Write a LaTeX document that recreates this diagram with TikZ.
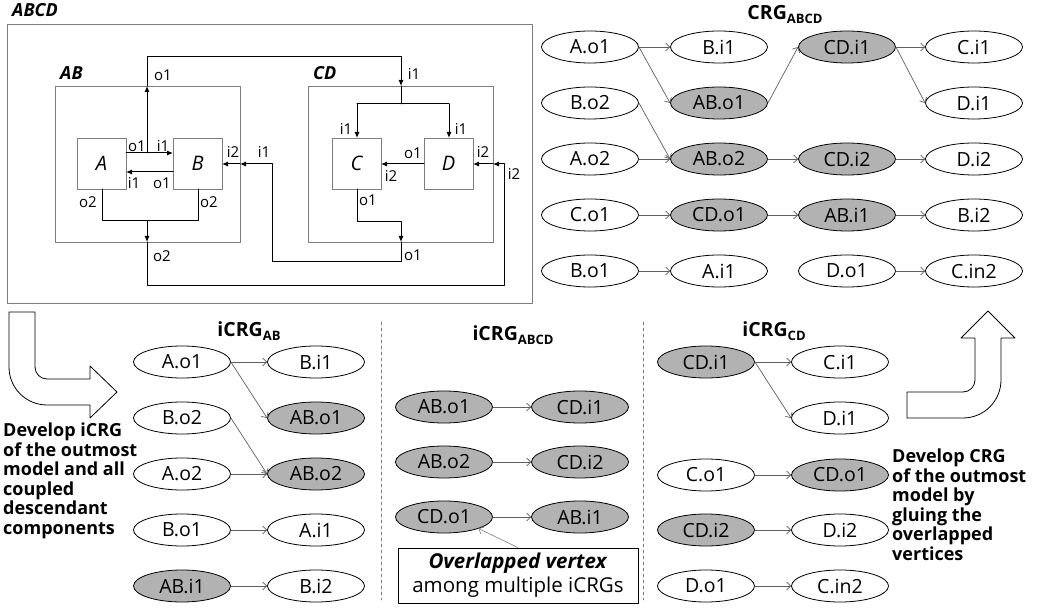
\documentclass[tikz,border=0pt]{standalone}
\usepackage{fontspec}
\setmainfont{Open Sans}
\usetikzlibrary{shapes.geometric,arrows.meta}

\definecolor{vgray}{RGB}{178,178,178}
\definecolor{egray}{RGB}{95,95,95}
\definecolor{bgray}{RGB}{125,125,125}
\newcommand{\subtag}[1]{{\fontsize{13}{13}\selectfont\raisebox{-4pt}{#1}}}

\begin{document}
\begin{tikzpicture}[x=1pt,y=-1pt,line cap=round,line join=round,
  frame/.style={draw=bgray,line width=0.8pt,inner sep=0pt},
  blk/.style={frame,fill=white,minimum width=49pt,minimum height=51pt,font=\fontsize{20}{20}\selectfont\itshape},
  port/.style={inner sep=0pt,font=\fontsize{15}{15}\selectfont},
  mlbl/.style={anchor=base west,inner sep=0pt,font=\fontsize{18}{18}\selectfont\bfseries\itshape},
  sig/.style={line width=1pt,-{Latex[length=6pt,width=5pt]}},
  wire/.style={line width=1pt},
  vtx/.style={ellipse,draw,line width=0.8pt,fill=white,minimum width=97pt,minimum height=32pt,inner sep=0pt,font=\fontsize{19.5}{20}\selectfont},
  gvtx/.style={vtx,fill=vgray},
  edge/.style={draw=egray,line width=0.7pt,-{Straight Barb[length=4pt,width=8pt]}},
  ttl/.style={anchor=base,inner sep=0pt,font=\fontsize{19.5}{19.5}\selectfont\bfseries},
  note/.style={anchor=north west,inner sep=0pt,align=left,font=\fontsize{18}{19.5}\selectfont\bfseries}]
  \useasboundingbox (0,0) rectangle (1042,609);

  % coupled model ABCD
  \node[frame,minimum width=525pt,minimum height=279pt] (ABCD) at (269.5,163.5) {};
  \node[frame,minimum width=185pt,minimum height=156pt] (AB) at (147.5,164) {};
  \node[frame,minimum width=185pt,minimum height=156pt] (CD) at (400.5,164) {};
  \node[blk] (A) at (101.5,163.5) {A};
  \node[blk] (B) at (197.5,163.5) {B};
  \node[blk] (C) at (356.5,163.5) {C};
  \node[blk] (D) at (448.5,163.5) {D};
  \node[mlbl] (nABCD) at (12,17) {ABCD};
  \node[mlbl] (nAB) at (60,80) {AB};
  \node[mlbl] (nCD) at (313,80) {CD};

  \coordinate (ao1) at (126,153);
  \coordinate (bi1) at (173,153);
  \coordinate (jab) at (147,153);
  \coordinate (abtop) at (147,86);
  \coordinate (up1) at (147,57);
  \coordinate (up2) at (401,57);
  \coordinate (cdtop) at (401,86);
  \coordinate (cdsplit) at (401,104);
  \coordinate (csplit) at (357,104);
  \coordinate (dsplit) at (449,104);
  \coordinate (ci1) at (357,138);
  \coordinate (di1) at (449,138);
  \coordinate (bo1) at (173,172);
  \coordinate (ai1) at (126,172);
  \coordinate (ao2) at (102,189);
  \coordinate (ao2b) at (102,221);
  \coordinate (bo2b) at (198,221);
  \coordinate (bo2) at (198,189);
  \coordinate (jo2) at (147,221);
  \coordinate (abbot) at (147,242);
  \coordinate (lo1) at (147,286);
  \coordinate (lo2) at (504,286);
  \coordinate (lo3) at (504,164);
  \coordinate (cdright) at (493,164);
  \coordinate (di2) at (473,164);
  \coordinate (co1) at (357,189);
  \coordinate (co1b) at (357,222);
  \coordinate (co1c) at (401,222);
  \coordinate (cdbot) at (401,242);
  \coordinate (mo1) at (401,262);
  \coordinate (mo2) at (272,262);
  \coordinate (mo3) at (272,164);
  \coordinate (abright) at (240,164);
  \coordinate (bi2) at (222,164);
  \coordinate (do1) at (424,164);
  \coordinate (ci2) at (381,164);

  \draw[sig] (ao1) -- (bi1);
  \draw[sig] (jab) -- (abtop);
  \draw[sig] (abtop) -- (up1) -- (up2) -- (cdtop);
  \draw[wire] (cdtop) -- (cdsplit);
  \draw[wire] (csplit) -- (dsplit);
  \draw[sig] (csplit) -- (ci1);
  \draw[sig] (dsplit) -- (di1);
  \draw[sig] (bo1) -- (ai1);
  \draw[wire] (ao2) -- (ao2b) -- (bo2b) -- (bo2);
  \draw[sig] (jo2) -- (abbot);
  \draw[sig] (abbot) -- (lo1) -- (lo2) -- (lo3) -- (cdright);
  \draw[sig] (cdright) -- (di2);
  \draw[sig] (co1) -- (co1b) -- (co1c) -- (cdbot);
  \draw[sig] (cdbot) -- (mo1) -- (mo2) -- (mo3) -- (abright);
  \draw[sig] (abright) -- (bi2);
  \draw[sig] (do1) -- (ci2);

  \node[port] (pAo1) at (137,146) {o1};
  \node[port] (pBi1) at (163,146) {i1};
  \node[port] (pAi1) at (134,183) {i1};
  \node[port] (pBo1) at (162,183) {o1};
  \node[port] (pAo2) at (88,202) {o2};
  \node[port] (pBo2) at (209,202) {o2};
  \node[port] (pBi2) at (233,152) {i2};
  \node[port] (pABi1) at (264,152) {i1};
  \node[port] (pABo1) at (163,75) {o1};
  \node[port] (pABo2) at (162,256) {o2};
  \node[port] (pCDi1) at (414,74) {i1};
  \node[port] (pCi1) at (346,129) {i1};
  \node[port] (pDi1) at (461,129) {i1};
  \node[port] (pDo1) at (413,153) {o1};
  \node[port] (pDi2) at (483,152) {i2};
  \node[port] (pCi2) at (391,176) {i2};
  \node[port] (pCDi2) at (514,174) {i2};
  \node[port] (pCo1) at (368,200) {o1};
  \node[port] (pCDo1) at (413,255) {o1};

  % CRG of ABCD
  \node[ttl] (tCRG) at (785,20) {CRG\subtag{ABCD}};
  \node[vtx] (gAo1) at (590,47) {A.o1};
  \node[vtx] (gBi1) at (719,47) {B.i1};
  \node[gvtx] (gCDi1) at (847,47) {CD.i1};
  \node[vtx] (gCi1) at (974,47) {C.i1};
  \node[vtx] (gBo2) at (590,103) {B.o2};
  \node[gvtx] (gABo1) at (719,103) {AB.o1};
  \node[vtx] (gDi1) at (974,103) {D.i1};
  \node[vtx] (gAo2) at (590,159) {A.o2};
  \node[gvtx] (gABo2) at (719,159) {AB.o2};
  \node[gvtx] (gCDi2) at (847,159) {CD.i2};
  \node[vtx] (gDi2) at (974,159) {D.i2};
  \node[vtx] (gCo1) at (590,215) {C.o1};
  \node[gvtx] (gCDo1) at (719,215) {CD.o1};
  \node[gvtx] (gABi1) at (847,215) {AB.i1};
  \node[vtx] (gBi2) at (974,215) {B.i2};
  \node[vtx] (gBo1) at (590,271) {B.o1};
  \node[vtx] (gAi1) at (719,271) {A.i1};
  \node[vtx] (gDo1) at (847,271) {D.o1};
  \node[vtx] (gCin2) at (974,271) {C.in2};
  \draw[edge] (gAo1.east) -- (gBi1.west);
  \draw[edge] (gAo1.east) -- (gABo1.west);
  \draw[edge] (gBo2.east) -- (gABo2.west);
  \draw[edge] (gAo2.east) -- (gABo2.west);
  \draw[edge] (gABo1.east) -- (gCDi1.west);
  \draw[edge] (gABo2.east) -- (gCDi2.west);
  \draw[edge] (gCDi1.east) -- (gCi1.west);
  \draw[edge] (gCDi1.east) -- (gDi1.west);
  \draw[edge] (gCDi2.east) -- (gDi2.west);
  \draw[edge] (gCo1.east) -- (gCDo1.west);
  \draw[edge] (gCDo1.east) -- (gABi1.west);
  \draw[edge] (gABi1.east) -- (gBi2.west);
  \draw[edge] (gBo1.east) -- (gAi1.west);
  \draw[edge] (gDo1.east) -- (gCin2.west);

  % iCRG of AB
  \node[ttl] (tAB) at (249,337) {iCRG\subtag{AB}};
  \node[vtx] (aAo1) at (182,362) {A.o1};
  \node[vtx] (aBi1) at (316,362) {B.i1};
  \node[vtx] (aBo2) at (182,418) {B.o2};
  \node[gvtx] (aABo1) at (316,418) {AB.o1};
  \node[vtx] (aAo2) at (182,474) {A.o2};
  \node[gvtx] (aABo2) at (316,474) {AB.o2};
  \node[vtx] (aBo1) at (182,530) {B.o1};
  \node[vtx] (aAi1) at (316,530) {A.i1};
  \node[gvtx] (aABi1) at (182,586) {AB.i1};
  \node[vtx] (aBi2) at (316,586) {B.i2};
  \draw[edge] (aAo1.east) -- (aBi1.west);
  \draw[edge] (aAo1.east) -- (aABo1.west);
  \draw[edge] (aBo2.east) -- (aABo2.west);
  \draw[edge] (aAo2.east) -- (aABo2.west);
  \draw[edge] (aBo1.east) -- (aAi1.west);
  \draw[edge] (aABi1.east) -- (aBi2.west);

  % iCRG of ABCD
  \node[ttl] (tABCD) at (513,341) {iCRG\subtag{ABCD}};
  \node[gvtx] (mABo1) at (444,407) {AB.o1};
  \node[gvtx] (mCDi1) at (580,407) {CD.i1};
  \node[gvtx] (mABo2) at (444,462) {AB.o2};
  \node[gvtx] (mCDi2) at (580,462) {CD.i2};
  \node[gvtx] (mCDo1) at (444,517) {CD.o1};
  \node[gvtx] (mABi1) at (580,517) {AB.i1};
  \draw[edge] (mABo1.east) -- (mCDi1.west);
  \draw[edge] (mABo2.east) -- (mCDi2.west);
  \draw[edge] (mCDo1.east) -- (mABi1.west);
  \node[draw,line width=0.8pt,minimum width=240pt,minimum height=55pt,inner sep=0pt,align=center,
    font=\fontsize{20.5}{24}\selectfont] (ovl) at (518,575.5) {\textbf{\textit{Overlapped vertex}}\\among multiple iCRGs};
  \draw[draw=gray,line width=0.6pt,-{Straight Barb[length=4pt,width=8pt]}] (ovl.north) -- (mCDo1.south east);

  % iCRG of CD
  \node[ttl] (tCD) at (774,337) {iCRG\subtag{CD}};
  \node[gvtx] (cCDi1) at (706,362) {CD.i1};
  \node[vtx] (cCi1) at (840,362) {C.i1};
  \node[vtx] (cDi1) at (840,418) {D.i1};
  \node[vtx] (cCo1) at (706,475) {C.o1};
  \node[gvtx] (cCDo1) at (840,475) {CD.o1};
  \node[gvtx] (cCDi2) at (706,530) {CD.i2};
  \node[vtx] (cDi2) at (840,530) {D.i2};
  \node[vtx] (cDo1) at (706,586) {D.o1};
  \node[vtx] (cCin2) at (840,586) {C.in2};
  \draw[edge] (cCDi1.east) -- (cCi1.west);
  \draw[edge] (cCDi1.east) -- (cDi1.west);
  \draw[edge] (cCo1.east) -- (cCDo1.west);
  \draw[edge] (cCDi2.east) -- (cDi2.west);
  \draw[edge] (cDo1.east) -- (cCin2.west);

  % separators
  \draw[draw=gray,line width=0.6pt,dashed] (381,322) -- (381,600);
  \draw[draw=gray,line width=0.6pt,dashed] (643,322) -- (643,600);

  % bent arrows
  \draw[line width=0.8pt,fill=white] (9,312) -- (35,312) -- (35,367) arc[start angle=180,end angle=90,radius=12]
    -- (90,379) -- (90,366) -- (117,392) -- (90,418) -- (90,405) -- (47,405)
    arc[start angle=90,end angle=180,radius=38] -- cycle;
  \draw[line width=0.8pt,fill=white] (988,311) -- (1015,338) -- (1001,338) -- (1001,380)
    arc[start angle=0,end angle=90,radius=38] -- (907,418) -- (907,392) -- (963,392)
    arc[start angle=90,end angle=0,radius=12] -- (975,338) -- (961,338) -- cycle;

  \node[note] (dev1) at (3,423) {Develop iCRG\\of the outmost\\model and all\\coupled\\descendant\\components};
  \node[note] (dev2) at (892,449) {Develop CRG\\of the outmost\\model by\\gluing the\\overlapped\\vertices};
\end{tikzpicture}
\end{document}
